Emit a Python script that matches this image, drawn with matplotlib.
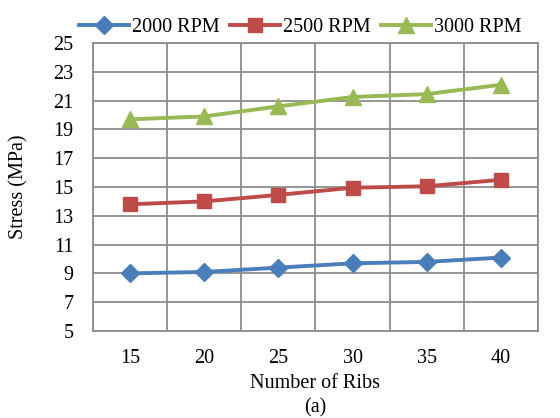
import matplotlib
matplotlib.use("Agg")
import matplotlib.pyplot as plt
import numpy as np

ribs = [15, 20, 25, 30, 35, 40]
stress_2000 = [9.0, 9.1, 9.4, 9.7, 9.8, 10.1]
stress_2500 = [13.8, 14.0, 14.45, 14.95, 15.05, 15.5]
stress_3000 = [19.7, 19.9, 20.6, 21.25, 21.45, 22.1]
yticks = [5, 7, 9, 11, 13, 15, 17, 19, 21, 23, 25]

plt.rcParams['font.family'] = ['Liberation Serif', 'DejaVu Serif']
FS = 14.5

fig = plt.figure(figsize=(5.6, 4.18), dpi=100)
ax = fig.add_axes([93/560, 1 - 331/418, (538-93)/560, (331-43)/418])

x = np.arange(len(ribs))
ax.plot(x, stress_2000, color='#4a7ebb', lw=2.8, marker='D', ms=9, label='2000 RPM')
ax.plot(x, stress_2500, color='#be4b48', lw=2.8, marker='s', ms=10, label='2500 RPM')
ax.plot(x, stress_3000, color='#98b954', lw=2.8, marker='^', ms=12, label='3000 RPM')

ax.set_xlim(-0.5, len(ribs) - 0.5)
ax.set_ylim(5, 25)
ax.set_xticks(x)
ax.set_xticklabels([str(r) for r in ribs])
ax.set_xticks(np.arange(len(ribs) + 1) - 0.5, minor=True)
ax.set_yticks(yticks)
ax.tick_params(axis='y', which='both', length=0, labelsize=FS, pad=14)
ax.tick_params(axis='x', which='both', length=0, labelsize=FS, pad=13)
ax.grid(True, which='minor', axis='x', color='#8c8c8c', lw=1.3)
ax.grid(True, which='major', axis='y', color='#8c8c8c', lw=1.3)
ax.set_axisbelow(True)
for s in ax.spines.values():
    s.set_color('#8c8c8c')
    s.set_linewidth(1.3)

ax.set_ylabel('Stress (MPa)', fontsize=FS, labelpad=18)
ax.set_xlabel('Number of Ribs', fontsize=FS, labelpad=4)
fig.text(0.563, 0.012, '(a)', ha='center', fontsize=FS)

leg_cx = (300 - 93) / (538 - 93)
ax.legend(loc='lower center', bbox_to_anchor=(leg_cx, 1.0), ncol=3, frameon=False,
          fontsize=FS, handlelength=2.5, columnspacing=0.5, handletextpad=0.15,
          borderaxespad=0.1, borderpad=0.2)

fig.savefig('out.png', dpi=100)
